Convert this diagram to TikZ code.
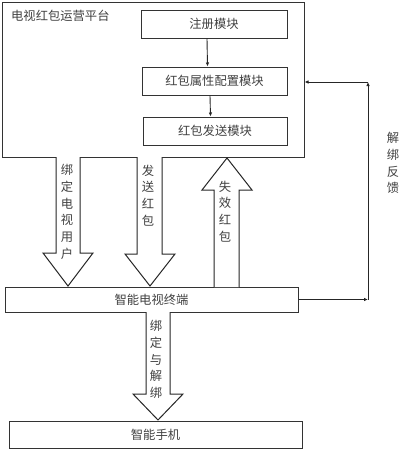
\documentclass[tikz,border=0pt]{standalone}
\usepackage{fontspec}
\setmainfont{Noto Sans CJK SC}
\usetikzlibrary{arrows.meta,calc}
\begin{document}
\begin{tikzpicture}[x=1pt,y=-1pt,
  every node/.style={font=\fontsize{12.3pt}{16.7pt}\selectfont, text=black!75, inner sep=0pt},
  box/.style={draw=black!80, line width=1pt},
  con/.style={draw=black!85, line width=0.9pt, -{Latex[length=4pt,width=3.5pt]}},
  fat/.style={draw=black!85, line width=1pt, fill=white, line join=miter},
  vlab/.style={align=center, text width=14pt}]
\useasboundingbox (0,0) rectangle (401,450);
% platform
\node[box, minimum width=302pt, minimum height=155pt] (plat) at (153,79.5) {};
\node[anchor=west] (title) at (11,15.5) {电视红包运营平台};
\node[box, minimum width=146pt, minimum height=28pt] (reg) at (214,24) {注册模块};
\node[box, minimum width=145pt, minimum height=28pt] (attr) at (214.5,81) {红包属性配置模块};
\node[box, minimum width=144pt, minimum height=28pt] (send) at (215,131) {红包发送模块};
\draw[con] ($(reg.south)+(-7,0)$) -- ($(attr.north)+(-7,0)$);
\draw[con] ($(attr.south)+(-4.5,0)$) -- ($(send.north)+(-4.5,0)$);
% terminal and phone
\node[box, minimum width=293pt, minimum height=25pt] (term) at (151.5,299.5) {智能电视终端};
\node[box, minimum width=293pt, minimum height=27pt] (phone) at (155.5,434.5) {智能手机};
% big arrows
\draw[fat] (56,157) -- (56,253) -- (43,253) -- (68,286) -- (93,253) -- (80,253) -- (80,157);
\draw[fat] (137,157) -- (137,254) -- (125,254) -- (150,286) -- (175,254) -- (162,254) -- (162,157);
\draw[fat] (214,287) -- (214,190) -- (202,190) -- (227,158) -- (252,190) -- (239,190) -- (239,287);
\draw[fat] (146,312) -- (146,394) -- (133,394) -- (158,420) -- (183,394) -- (170,394) -- (170,312);
\node[vlab] (l1) at (67,212) {绑\\定\\电\\视\\用\\户};
\node[vlab] (l2) at (148,195.5) {发\\送\\红\\包};
\node[vlab] (l3) at (225,211.5) {失\\效\\红\\包};
\node[vlab] (l4) at (156,359.5) {绑\\定\\与\\解\\绑};
% feedback
\coordinate (c1) at (368,299.5);
\coordinate (c2) at (368,82);
\draw[con] (term.east) -- (c1);
\draw[con] (c1) -- (c2);
\draw[con] (c2) -- (plat.east |- c2);
\node[vlab] (l5) at (393,163) {解\\绑\\反\\馈};
\end{tikzpicture}
\end{document}
